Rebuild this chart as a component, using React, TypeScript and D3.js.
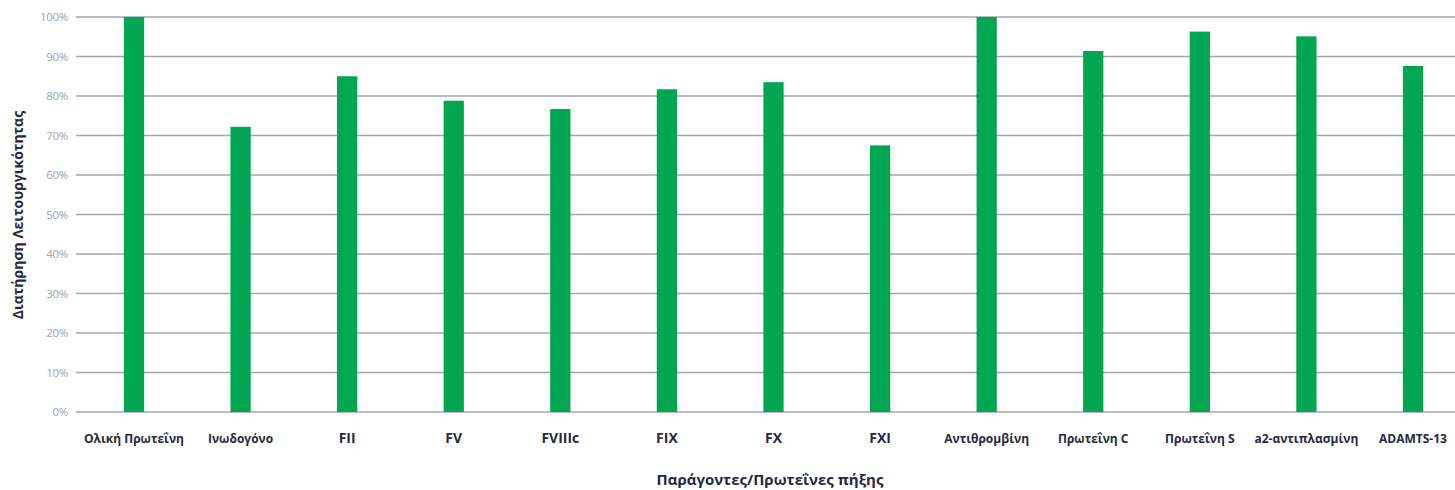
import React from "react";
import * as d3 from "d3";

const categories: string[] = [
  "Ολική Πρωτεΐνη",
  "Ινωδογόνο",
  "FII",
  "FV",
  "FVIIIc",
  "FIX",
  "FX",
  "FXI",
  "Αντιθρομβίνη",
  "Πρωτεΐνη C",
  "Πρωτεΐνη S",
  "a2-αντιπλασμίνη",
  "ADAMTS-13",
];
const values: number[] = [100, 72.2, 85.0, 78.8, 76.7, 81.7, 83.5, 67.5, 100, 91.4, 96.3, 95.1, 87.6];
const yTicks: number[] = [0, 10, 20, 30, 40, 50, 60, 70, 80, 90, 100];
const bigLabels: string[] = ["FII", "FV", "FVIIIc", "FIX", "FX", "FXI"];
const yTitle = "Διατήρηση Λειτουργικότητας";
const xTitle = "Παράγοντες/Πρωτεΐνες πήξης";

const W = 1455;
const H = 490;

export default function App() {
  const x = d3.scalePoint<string>().domain(categories).range([134, 1413]);
  const y = d3.scaleLinear().domain([0, 100]).range([412, 17]);
  const barW = x.step() * 0.19;
  const textColor = "#28283f";

  return (
    <div style={{ position: "absolute", left: 0, top: 0 }}>
      <svg width={W} height={H} style={{ display: "block", background: "#fff" }}>
        <g>
          {yTicks.map((t) => (
            <g key={t}>
              <line x1={76} x2={W} y1={y(t)} y2={y(t)} stroke="#a3a6aa" strokeWidth={1.5} />
              <text
                x={68}
                y={y(t)}
                dy="0.35em"
                textAnchor="end"
                fontFamily="'Open Sans', sans-serif"
                fontSize={11.5}
                letterSpacing={-0.3}
                fill="#a3a3a3"
              >
                {t}%
              </text>
            </g>
          ))}
        </g>
        <g>
          {categories.map((c, i) => (
            <rect
              key={c}
              x={(x(c) as number) - barW / 2}
              y={y(values[i])}
              width={barW}
              height={y(0) - y(values[i])}
              fill="#00a651"
            />
          ))}
        </g>
        <g>
          {categories.map((c) => {
            const big = bigLabels.includes(c);
            return (
              <text
                key={c}
                x={x(c) as number}
                y={443}
                textAnchor="middle"
                fontFamily="'Open Sans', sans-serif"
                fontWeight="bold"
                fontSize={big ? 14 : 12}
                fill={textColor}
              >
                {c}
              </text>
            );
          })}
        </g>
        <text
          x={770}
          y={485}
          textAnchor="middle"
          fontFamily="'Open Sans', sans-serif"
          fontWeight="bold"
          fontSize={15}
          fill={textColor}
        >
          {xTitle}
        </text>
        <text
          transform={`translate(23,215) rotate(-90)`}
          textAnchor="middle"
          fontFamily="'Open Sans', sans-serif"
          fontWeight="bold"
          fontSize={14}
          fill={textColor}
        >
          {yTitle}
        </text>
      </svg>
    </div>
  );
}
